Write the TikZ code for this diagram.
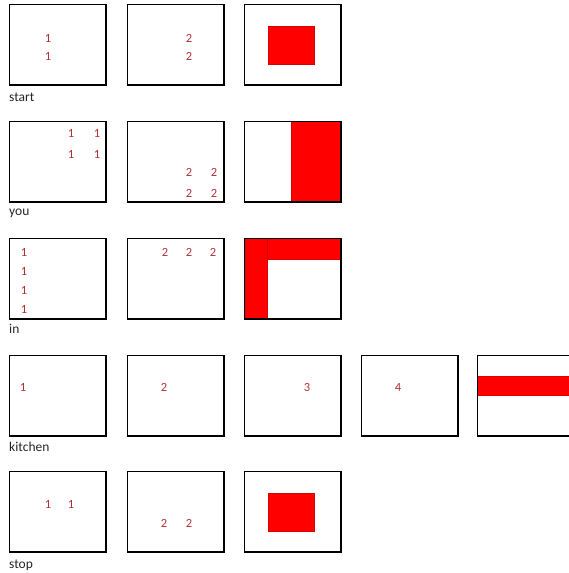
\documentclass[tikz,border=0pt]{standalone}
\usepackage{fontspec}
\setmainfont{Carlito}
\usetikzlibrary{calc}
\definecolor{numred}{RGB}{178,48,58}
\definecolor{blockred}{RGB}{255,0,0}
\colorlet{textgray}{black!85}

\begin{document}
\begin{tikzpicture}[
    x=1pt, y=-1pt,
    cell/.pic={
        \draw[line width=1.5pt] (0.5,0.5) rectangle (96.5,80.5);
        \draw[line width=1.5pt] (97.5,0) -- (97.5,81.5) -- (0,81.5);
    },
    num/.style={text=numred, inner sep=0pt, font=\fontsize{12.5}{13}\selectfont},
    word/.style={text=textgray, anchor=west, inner sep=0pt, font=\fontsize{13.5}{14}\selectfont},
    block/.style={fill=blockred, draw=red!85!black, line width=0.5pt},
]
\useasboundingbox (0,0) rectangle (569,573);

% Red blocks (drawn first, frames on top)
\fill[block] (268,26) rectangle (314,64);
\fill[block] (291,121.5) rectangle (340,201.5);
\fill[block] (245,238.5) rectangle (340,259);
\fill[block] (245,238.5) rectangle (267,318.5);
\fill[block] (477.5,376) rectangle (570,395);
\fill[block] (268,493) rectangle (314,531);

% Frames, row by row
\pic at (9,4)   {cell};
\pic at (127,4) {cell};
\pic at (244,4) {cell};

\pic at (9,121)   {cell};
\pic at (127,121) {cell};
\pic at (244,121) {cell};

\pic at (9,238)   {cell};
\pic at (127,238) {cell};
\pic at (244,238) {cell};

\pic at (9,355)   {cell};
\pic at (127,355) {cell};
\pic at (244,355) {cell};
\pic at (361,355) {cell};
\pic at (477,355) {cell};

\pic at (9,471)   {cell};
\pic at (127,471) {cell};
\pic at (244,471) {cell};

% start
\node[num] (sa1) at (48,38) {1};
\node[num] (sa2) at (48,56) {1};
\node[num] (sb1) at (189,38) {2};
\node[num] (sb2) at (189,56) {2};
\node[word] (start) at (9,97) {start};

% you
\node[num] (ya1) at (71,133) {1};
\node[num] (ya2) at (97,133) {1};
\node[num] (ya3) at (71,154) {1};
\node[num] (ya4) at (97,154) {1};
\node[num] (yb1) at (189,172) {2};
\node[num] (yb2) at (214,172) {2};
\node[num] (yb3) at (189,193) {2};
\node[num] (yb4) at (214,193) {2};
\node[word] (you) at (9,213) {you};

% in
\node[num] (ia1) at (24,252) {1};
\node[num] (ia2) at (24,271) {1};
\node[num] (ia3) at (24,290) {1};
\node[num] (ia4) at (24,309) {1};
\node[num] (ib1) at (165,252) {2};
\node[num] (ib2) at (189,252) {2};
\node[num] (ib3) at (213,252) {2};
\node[word] (in) at (9,329) {in};

% kitchen
\node[num] (ka) at (23,387) {1};
\node[num] (kb) at (164,387) {2};
\node[num] (kc) at (307,387) {3};
\node[num] (kd) at (398,387) {4};
\node[word] (kitchen) at (9,447) {kitchen};

% stop
\node[num] (ta1) at (48,504) {1};
\node[num] (ta2) at (71,504) {1};
\node[num] (tb1) at (164,523) {2};
\node[num] (tb2) at (189,523) {2};
\node[word] (stop) at (9,565) {stop};

\end{tikzpicture}
\end{document}
